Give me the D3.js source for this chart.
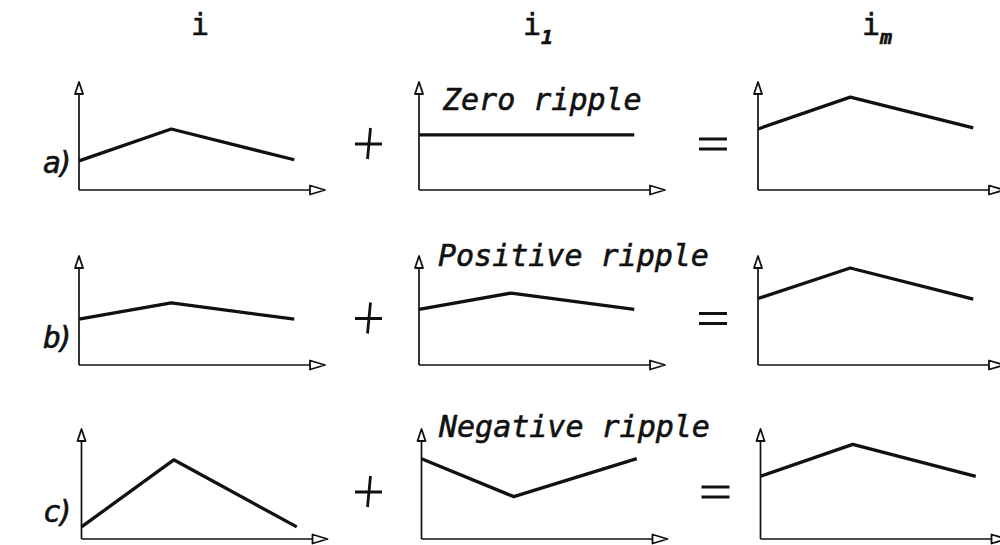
<!DOCTYPE html>
<html>
<head>
<meta charset="utf-8">
<script src="https://cdn.jsdelivr.net/npm/d3@7"></script>
<style>
  html, body { margin: 0; padding: 0; background: #fff; }
  svg { display: block; }
  text { font-family: "DejaVu Sans Mono", "Liberation Mono", monospace; fill: #111; stroke: #111; stroke-width: 0.6px; }
</style>
</head>
<body>
<svg id="chart" width="1000" height="545"></svg>
<script>
// Waveform sketches: i + i1 = im for three ripple cases.
const columnTitles = ["i", "i", "i"];
const columnSubs = ["", "1", "m"];
const rowLabels = ["a)", "b)", "c)"];
const rippleLabels = ["Zero ripple", "Positive ripple", "Negative ripple"];

// Time instants of the sketch (start, turning point, end)
const timePoints = [0, 3, 7];

// Current levels per row, for columns i, i1, im
const rowA_i  = [2.7, 5.65, 2.8];
const rowA_i1 = [5.1, 5.1, 5.1];
const rowA_im = [5.65, 8.6, 5.75];

const rowB_i  = [4.2, 5.7, 4.2];
const rowB_i1 = [5.1, 6.6, 5.1];
const rowB_im = [6.1, 8.9, 6.05];

const rowC_i  = [1.1, 7.2, 1.1];
const rowC_i1 = [7.3, 3.85, 7.3];
const rowC_im = [5.7, 8.6, 5.7];

const rows = [
  [rowA_i, rowA_i1, rowA_im],
  [rowB_i, rowB_i1, rowB_im],
  [rowC_i, rowC_i1, rowC_im]
];

const svg = d3.select("#chart");

// Panel geometry
const colX = [79, 419, 758];
const rowShiftX = [0, 0, 2.5];
const rowBottom = [190, 365, 539];
const rowTop = [82, 256, 429];
const axisLen = 246;

const ink = "#111";

// column headers
columnTitles.forEach((t, c) => {
  const cx = colX[c] + 121;
  svg.append("text")
    .attr("x", cx - (columnSubs[c] ? 8 : 0))
    .attr("y", 35)
    .attr("text-anchor", "middle")
    .attr("font-size", 30)
    .text(t);
  if (columnSubs[c]) {
    svg.append("text")
      .attr("x", cx + 1)
      .attr("y", 44)
      .attr("font-size", 20)
      .attr("font-weight", "bold")
      .attr("font-style", "oblique")
      .text(columnSubs[c]);
  }
});

rows.forEach((series, r) => {
  const y = d3.scaleLinear().domain([0, 10]).range([rowBottom[r], rowTop[r]]);

  // row label
  svg.append("text")
    .attr("x", 43)
    .attr("y", rowBottom[r] - 17)
    .attr("font-size", 30)
    .attr("letter-spacing", -5)
    .attr("font-style", "oblique")
    .text(rowLabels[r]);

  series.forEach((vals, c) => {
    const x0 = colX[c] + rowShiftX[r];
    const x = d3.scaleLinear().domain([0, 8]).range([x0, x0 + axisLen]);
    const g = svg.append("g");

    // vertical axis with hollow arrowhead
    const yTip = y(10), yBase = y(10) + 12;
    g.append("line")
      .attr("x1", x(0)).attr("x2", x(0))
      .attr("y1", y(0)).attr("y2", yBase)
      .attr("stroke", ink).attr("stroke-width", 1.7);
    g.append("path")
      .attr("d", `M${x(0)},${yTip}L${x(0) - 4},${yBase}L${x(0) + 4},${yBase}Z`)
      .attr("fill", "#fff").attr("stroke", ink).attr("stroke-width", 1.8)
      .attr("stroke-linejoin", "round");

    // horizontal axis with hollow arrowhead
    const xTip = x(8), xBase = x(8) - 15;
    g.append("line")
      .attr("x1", x(0)).attr("x2", xBase)
      .attr("y1", y(0)).attr("y2", y(0))
      .attr("stroke", ink).attr("stroke-width", 1.7);
    g.append("path")
      .attr("d", `M${xTip},${y(0)}L${xBase},${y(0) - 4.5}L${xBase},${y(0) + 4.5}Z`)
      .attr("fill", "#fff").attr("stroke", ink).attr("stroke-width", 1.8)
      .attr("stroke-linejoin", "round");

    // waveform
    const line = d3.line().x((d, i) => x(timePoints[i])).y(d => y(d));
    g.append("path")
      .attr("d", line(vals))
      .attr("fill", "none")
      .attr("stroke", ink)
      .attr("stroke-width", 3.3)
      .attr("stroke-linejoin", "round");
  });

  // ripple caption on the i1 panel
  const capY = [110, 266, 437][r];
  const capX = [443, 438, 439][r];
  svg.append("text")
    .attr("x", capX)
    .attr("y", capY)
    .attr("font-size", 30)
    .attr("font-style", "oblique")
    .text(rippleLabels[r]);

  // plus sign between i and i1
  const mid = (rowBottom[r] + rowTop[r]) / 2 + 8;
  const px = 369;
  svg.append("path")
    .attr("d", `M${px - 14},${mid}L${px + 13},${mid}M${px + 1.5},${mid - 16}L${px - 1.5},${mid + 15}`)
    .attr("stroke", ink).attr("stroke-width", 2.8).attr("fill", "none");

  // equals sign between i1 and im
  const ex = 699 + rowShiftX[r];
  const ey = mid - 5;
  svg.append("path")
    .attr("d", `M${ex},${ey}L${ex + 28},${ey}M${ex},${ey + 10}L${ex + 28},${ey + 10}`)
    .attr("stroke", ink).attr("stroke-width", 2.8).attr("fill", "none");
});
</script>
</body>
</html>
